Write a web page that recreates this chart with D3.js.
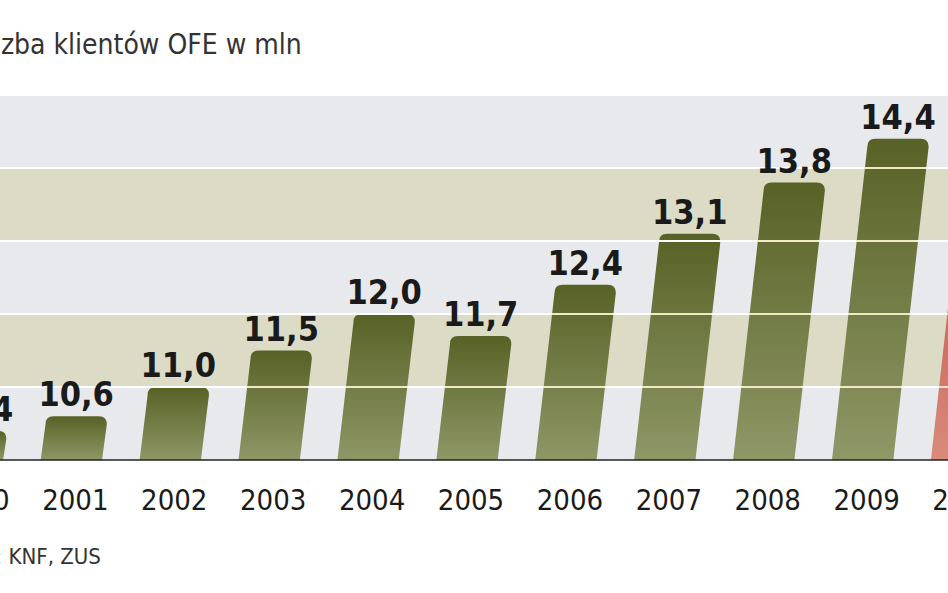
<!DOCTYPE html>
<html><head><meta charset="utf-8">
<script src="https://cdn.jsdelivr.net/npm/d3@7"></script>
<style>body{margin:0;background:#fff}svg{display:block}</style>
</head><body>
<svg id="chart" width="948" height="593"></svg>
<script>
const years = ["2000","2001","2002","2003","2004","2005","2006","2007","2008","2009","2010"];
const values = [10.4, 10.6, 11.0, 11.5, 12.0, 11.7, 12.4, 13.1, 13.8, 14.4, 15.2];
const labels = ["10,4","10,6","11,0","11,5","12,0","11,7","12,4","13,1","13,8","14,4","15,2"];
const gridTicks = [11, 12, 13, 14, 15];

const svg = d3.select("#chart");
const base = 460;
const slant = 0.11;

const y = d3.scaleLinear().domain([10, 15]).range([base, 95]);
const x = d3.scaleBand().domain(years).range([-78, 1012]).paddingInner(0.38).paddingOuter(0.2);

const defs = svg.append("defs");
const gr = defs.append("linearGradient").attr("id", "barg").attr("x1", 0).attr("y1", 0).attr("x2", 0).attr("y2", 1);
gr.append("stop").attr("offset", "0%").attr("stop-color", "#586226");
gr.append("stop").attr("offset", "100%").attr("stop-color", "#8e9766");
const rg = defs.append("linearGradient").attr("id", "redg").attr("x1", 0).attr("y1", 0).attr("x2", 0).attr("y2", 1);
rg.append("stop").attr("offset", "0%").attr("stop-color", "#b8322c");
rg.append("stop").attr("offset", "100%").attr("stop-color", "#d98b7c");

// background bands
const edges = [10, 11, 12, 13, 14, 15];
svg.selectAll(".band").data(d3.range(5)).enter().append("rect")
    .attr("x", 0).attr("width", 948)
    .attr("y", i => y(edges[i + 1]))
    .attr("height", i => y(edges[i]) - y(edges[i + 1]))
    .attr("fill", i => i % 2 === 1 ? "#dcdcc6" : "#e7e9ec");

// bars: slanted, rounded top
function barPath(d, i) {
    const w = x.bandwidth();
    const top = y(d);
    const sl = (base - top) * slant;
    const x0 = x(years[i]);
    const r = 8;
    return `M${x0},${base} L${x0 + sl},${top + r} Q${x0 + sl},${top} ${x0 + sl + r},${top}
            L${x0 + w + sl - r},${top} Q${x0 + w + sl},${top} ${x0 + w + sl},${top + r}
            L${x0 + w},${base} Z`;
}
svg.selectAll(".bar").data(values).enter().append("path")
    .attr("d", barPath)
    .attr("fill", (d, i) => i === values.length - 1 ? "url(#redg)" : "url(#barg)");

// gridlines (white on background, cream over bars)
svg.selectAll(".grid").data(gridTicks).enter().append("line")
    .attr("x1", 0).attr("x2", 948)
    .attr("y1", d => y(d)).attr("y2", d => y(d))
    .attr("stroke", "#ffffff").attr("stroke-width", 2);
values.forEach((v, i) => {
    const w = x.bandwidth();
    gridTicks.filter(t => y(t) > y(v) + 10).forEach(t => {
        const yy = y(t);
        const sl = (base - yy) * slant;
        svg.append("line")
            .attr("x1", x(years[i]) + sl).attr("x2", x(years[i]) + sl + w)
            .attr("y1", yy).attr("y2", yy)
            .attr("stroke", i === values.length - 1 ? "#f3d9cf" : "#eeebc4").attr("stroke-width", 2);
    });
});

// baseline
svg.append("line").attr("x1", 0).attr("x2", 948).attr("y1", base).attr("y2", base)
    .attr("stroke", "#222").attr("stroke-width", 1.5);

// value labels
svg.selectAll(".val").data(values).enter().append("text")
    .attr("x", (d, i) => x(years[i]) + x.bandwidth() / 2 + (base - y(d)) * slant)
    .attr("y", d => y(d) - 10)
    .attr("text-anchor", "middle")
    .attr("font-family", "DejaVu Sans Condensed, DejaVu Sans")
    .attr("font-weight", "bold").attr("font-size", 34).attr("fill", "#1a1a1a")
    .text((d, i) => labels[i]);

// year labels
svg.selectAll(".yr").data(years).enter().append("text")
    .attr("x", d => x(d) + x.bandwidth() / 2 + 4)
    .attr("y", 510)
    .attr("text-anchor", "middle")
    .attr("font-family", "DejaVu Sans Condensed, DejaVu Sans")
    .attr("font-size", 29).attr("fill", "#1a1a1a")
    .text(d => d);

svg.append("text").attr("x", -34).attr("y", 54)
    .attr("font-family", "DejaVu Sans Condensed, DejaVu Sans")
    .attr("font-size", 28).attr("fill", "#333")
    .text("Liczba klientów OFE w mln");

svg.append("text").attr("x", -68).attr("y", 564)
    .attr("font-family", "DejaVu Sans Condensed, DejaVu Sans")
    .attr("font-size", 22).attr("fill", "#333")
    .text("Źródło: KNF, ZUS");
</script>
</body></html>
